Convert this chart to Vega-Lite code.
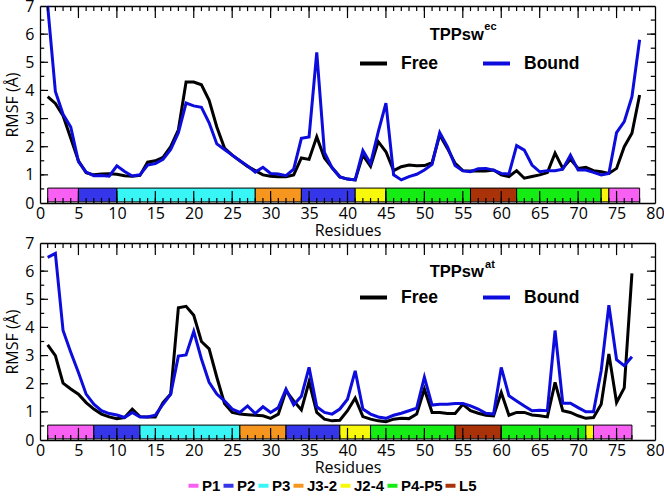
{
  "$schema": "https://vega.github.io/schema/vega-lite/v6.json",
  "padding": {"left": 4, "top": -2, "right": 2, "bottom": 2},
  "spacing": 40,
  "bounds": "flush",
  "datasets": {
    "ec": [
      {"r":1,"Free":3.78,"Bound":7.0},{"r":2,"Free":3.54,"Bound":3.96},{"r":3,"Free":3.1,"Bound":3.15},{"r":4,"Free":2.3,"Bound":2.7},{"r":5,"Free":1.5,"Bound":1.47},
      {"r":6,"Free":1.08,"Bound":1.1},{"r":7,"Free":1.0,"Bound":0.97},{"r":8,"Free":1.03,"Bound":0.98},{"r":9,"Free":1.04,"Bound":0.95},{"r":10,"Free":1.02,"Bound":1.32},
      {"r":11,"Free":0.97,"Bound":1.12},{"r":12,"Free":0.95,"Bound":0.96},{"r":13,"Free":0.98,"Bound":1.0},{"r":14,"Free":1.45,"Bound":1.35},{"r":15,"Free":1.5,"Bound":1.4},
      {"r":16,"Free":1.62,"Bound":1.55},{"r":17,"Free":2.0,"Bound":1.9},{"r":18,"Free":2.6,"Bound":2.5},{"r":19,"Free":4.3,"Bound":3.55},{"r":20,"Free":4.3,"Bound":3.45},
      {"r":21,"Free":4.2,"Bound":3.4},{"r":22,"Free":3.65,"Bound":2.85},{"r":23,"Free":2.7,"Bound":2.1},{"r":24,"Free":1.95,"Bound":1.9},{"r":25,"Free":1.7,"Bound":1.7},
      {"r":26,"Free":1.5,"Bound":1.5},{"r":27,"Free":1.3,"Bound":1.32},{"r":28,"Free":1.15,"Bound":1.1},{"r":29,"Free":1.0,"Bound":1.27},{"r":30,"Free":0.95,"Bound":1.05},
      {"r":31,"Free":0.93,"Bound":1.03},{"r":32,"Free":0.93,"Bound":0.97},{"r":33,"Free":1.0,"Bound":1.2},{"r":34,"Free":1.6,"Bound":2.3},{"r":35,"Free":1.55,"Bound":2.35},
      {"r":36,"Free":2.35,"Bound":5.35},{"r":37,"Free":1.6,"Bound":1.8},{"r":38,"Free":1.25,"Bound":1.25},{"r":39,"Free":0.93,"Bound":0.93},{"r":40,"Free":0.85,"Bound":0.85},
      {"r":41,"Free":0.82,"Bound":0.82},{"r":42,"Free":1.7,"Bound":1.86},{"r":43,"Free":1.3,"Bound":1.4},{"r":44,"Free":2.18,"Bound":2.53},{"r":45,"Free":1.82,"Bound":3.55},
      {"r":46,"Free":1.15,"Bound":1.0},{"r":47,"Free":1.29,"Bound":0.82},{"r":48,"Free":1.35,"Bound":0.94},{"r":49,"Free":1.32,"Bound":1.02},{"r":50,"Free":1.33,"Bound":1.17},
      {"r":51,"Free":1.43,"Bound":1.37},{"r":52,"Free":2.42,"Bound":2.5},{"r":53,"Free":1.94,"Bound":2.0},{"r":54,"Free":1.41,"Bound":1.33},{"r":55,"Free":1.15,"Bound":1.14},
      {"r":56,"Free":1.14,"Bound":1.11},{"r":57,"Free":1.15,"Bound":1.22},{"r":58,"Free":1.14,"Bound":1.23},{"r":59,"Free":1.17,"Bound":1.17},{"r":60,"Free":1.0,"Bound":1.05},
      {"r":61,"Free":0.94,"Bound":1.03},{"r":62,"Free":1.15,"Bound":2.04},{"r":63,"Free":0.88,"Bound":1.88},{"r":64,"Free":0.94,"Bound":1.35},{"r":65,"Free":1.0,"Bound":1.11},
      {"r":66,"Free":1.08,"Bound":1.15},{"r":67,"Free":1.77,"Bound":1.15},{"r":68,"Free":1.23,"Bound":1.2},{"r":69,"Free":1.55,"Bound":1.7},{"r":70,"Free":1.23,"Bound":1.17},
      {"r":71,"Free":1.27,"Bound":1.17},{"r":72,"Free":1.15,"Bound":1.09},{"r":73,"Free":1.11,"Bound":1.0},{"r":74,"Free":1.05,"Bound":1.05},{"r":75,"Free":1.23,"Bound":2.5},
      {"r":76,"Free":2.0,"Bound":2.89},{"r":77,"Free":2.48,"Bound":3.78},{"r":78,"Free":3.84,"Bound":5.8}
    ],
    "at": [
      {"r":1,"Free":3.38,"Bound":6.49},{"r":2,"Free":3.0,"Bound":6.63},{"r":3,"Free":2.02,"Bound":3.89},{"r":4,"Free":1.81,"Bound":3.12},{"r":5,"Free":1.63,"Bound":2.4},
      {"r":6,"Free":1.33,"Bound":1.63},{"r":7,"Free":1.1,"Bound":1.27},{"r":8,"Free":0.92,"Bound":1.04},{"r":9,"Free":0.82,"Bound":0.94},{"r":10,"Free":0.76,"Bound":0.89},
      {"r":11,"Free":0.8,"Bound":0.8},{"r":12,"Free":1.1,"Bound":0.98},{"r":13,"Free":0.83,"Bound":0.82},{"r":14,"Free":0.82,"Bound":0.82},{"r":15,"Free":0.82,"Bound":0.88},
      {"r":16,"Free":1.33,"Bound":1.27},{"r":17,"Free":1.63,"Bound":1.63},{"r":18,"Free":4.7,"Bound":2.98},{"r":19,"Free":4.75,"Bound":3.02},{"r":20,"Free":4.43,"Bound":3.86},
      {"r":21,"Free":3.5,"Bound":2.88},{"r":22,"Free":3.24,"Bound":2.05},{"r":23,"Free":2.23,"Bound":1.63},{"r":24,"Free":1.3,"Bound":1.39},{"r":25,"Free":0.98,"Bound":1.1},
      {"r":26,"Free":0.92,"Bound":0.98},{"r":27,"Free":0.9,"Bound":1.21},{"r":28,"Free":0.88,"Bound":0.94},{"r":29,"Free":0.86,"Bound":1.18},{"r":30,"Free":0.77,"Bound":0.98},
      {"r":31,"Free":0.92,"Bound":1.15},{"r":32,"Free":1.75,"Bound":1.81},{"r":33,"Free":1.39,"Bound":1.25},{"r":34,"Free":1.07,"Bound":1.55},{"r":35,"Free":2.07,"Bound":2.58},
      {"r":36,"Free":0.98,"Bound":1.18},{"r":37,"Free":0.74,"Bound":0.98},{"r":38,"Free":0.68,"Bound":0.92},{"r":39,"Free":0.7,"Bound":1.1},{"r":40,"Free":1.04,"Bound":1.45},
      {"r":41,"Free":1.49,"Bound":2.46},{"r":42,"Free":0.83,"Bound":1.1},{"r":43,"Free":0.74,"Bound":0.92},{"r":44,"Free":0.68,"Bound":0.82},{"r":45,"Free":0.65,"Bound":0.77},
      {"r":46,"Free":0.74,"Bound":0.88},{"r":47,"Free":0.77,"Bound":0.95},{"r":48,"Free":0.76,"Bound":1.04},{"r":49,"Free":0.92,"Bound":1.13},{"r":50,"Free":1.81,"Bound":2.23},
      {"r":51,"Free":0.98,"Bound":1.24},{"r":52,"Free":0.98,"Bound":1.27},{"r":53,"Free":0.94,"Bound":1.27},{"r":54,"Free":0.94,"Bound":1.3},{"r":55,"Free":1.27,"Bound":1.3},
      {"r":56,"Free":1.04,"Bound":1.21},{"r":57,"Free":0.95,"Bound":1.1},{"r":58,"Free":0.88,"Bound":0.95},{"r":59,"Free":0.86,"Bound":0.92},{"r":60,"Free":1.69,"Bound":2.58},
      {"r":61,"Free":0.88,"Bound":1.57},{"r":62,"Free":0.98,"Bound":1.39},{"r":63,"Free":0.98,"Bound":1.21},{"r":64,"Free":0.89,"Bound":1.04},{"r":65,"Free":0.86,"Bound":1.06},
      {"r":66,"Free":0.82,"Bound":1.04},{"r":67,"Free":2.05,"Bound":3.89},{"r":68,"Free":1.04,"Bound":1.31},{"r":69,"Free":0.98,"Bound":1.31},{"r":70,"Free":0.86,"Bound":1.15},
      {"r":71,"Free":0.77,"Bound":1.0},{"r":72,"Free":0.8,"Bound":1.0},{"r":73,"Free":1.27,"Bound":2.46},{"r":74,"Free":3.06,"Bound":4.79},{"r":75,"Free":1.33,"Bound":2.85},
      {"r":76,"Free":1.85,"Bound":2.64},{"r":77,"Free":5.92,"Bound":2.96}
    ],
    "yt": [
      {"v":0.5},{"v":1},{"v":1.5},{"v":2},{"v":2.5},{"v":3},{"v":3.5},{"v":4},{"v":4.5},{"v":5},{"v":5.5},{"v":6},{"v":6.5}
    ],
    "segEc": [
      {"start":1,"end":5,"seg":"P1"},{"start":5,"end":10,"seg":"P2"},{"start":10,"end":28,"seg":"P3"},{"start":28,"end":34,"seg":"J3-2"},
      {"start":34,"end":41,"seg":"P2"},{"start":41,"end":45,"seg":"J2-4"},{"start":45,"end":56,"seg":"P4-P5"},{"start":56,"end":62,"seg":"L5"},
      {"start":62,"end":73,"seg":"P4-P5"},{"start":73,"end":74,"seg":"J2-4"},{"start":74,"end":78,"seg":"P1"}
    ],
    "segAt": [
      {"start":1,"end":7,"seg":"P1"},{"start":7,"end":13,"seg":"P2"},{"start":13,"end":26,"seg":"P3"},{"start":26,"end":32,"seg":"J3-2"},
      {"start":32,"end":39,"seg":"P2"},{"start":39,"end":43,"seg":"J2-4"},{"start":43,"end":54,"seg":"P4-P5"},{"start":54,"end":60,"seg":"L5"},
      {"start":60,"end":71,"seg":"P4-P5"},{"start":71,"end":72,"seg":"J2-4"},{"start":72,"end":77,"seg":"P1"}
    ]
  },
  "config": {
    "view": {"stroke": null},
    "axis": {
      "labelFont": "Open Sans", "labelFontSize": 16, "labelColor": "#000",
      "titleFont": "Open Sans", "titleFontSize": 16, "titleFontWeight": "normal", "titleColor": "#000",
      "domainColor": "#000", "domainWidth": 1.3, "ticks": true, "tickSize": 5, "tickOpacity": 0,
      "grid": false, "zindex": 1
    }
  },
  "resolve": {"scale": {"stroke": "independent"}, "legend": {"stroke": "independent"}},
  "vconcat": [
    {
      "width": 615, "height": 197,
      "resolve": {"axis": {"x": "independent", "y": "independent"}},
      "layer": [
        {
          "data": {"name": "segEc"},
          "mark": {"type": "rect", "stroke": "#000", "strokeWidth": 1},
          "encoding": {
            "x": {"field": "start", "type": "quantitative", "scale": {"domain": [0, 80], "nice": false},
              "axis": {"orient": "bottom", "values": [0,5,10,15,20,25,30,35,40,45,50,55,60,65,70,75,80],
                "labelOverlap": false, "labelFlush": false, "format": "d",
                "labelPadding": -3, "title": "Residues", "titlePadding": 1}},
            "x2": {"field": "end"},
            "y": {"datum": 0.04, "type": "quantitative", "scale": {"domain": [0, 7], "nice": false},
              "axis": {"orient": "left", "values": [0,1,2,3,4,5,6,7],
                "labelOverlap": false, "labelFlush": false, "format": "d",
                "labelPadding": 1, "title": "RMSF (Å)", "titlePadding": 4}},
            "y2": {"datum": 0.53},
            "fill": {"field": "seg", "type": "nominal",
              "scale": {"domain": ["P1","P2","P3","J3-2","J2-4","P4-P5","L5"], "range": ["#f760f2","#3535ea","#38f6f6","#f7961f","#f8f80c","#14ec14","#a93208"]},
              "legend": {"orient": "none", "legendX": 146, "legendY": 472, "direction": "horizontal", "title": null,
                "symbolType": "M-1,-0.4H1V0.4H-1Z", "symbolSize": 100, "symbolStrokeWidth": 0,
                "labelFont": "Liberation Sans", "labelFontWeight": "bold", "labelFontSize": 15, "labelColor": "#000",
                "labelOffset": 1, "columnPadding": 0}}
          }
        },
        {
          "data": {"name": "ec"},
          "transform": [{"fold": ["Free", "Bound"], "as": ["state", "rmsf"]}],
          "mark": {"type": "line", "strokeWidth": 3},
          "encoding": {
            "x": {"field": "r", "type": "quantitative",
              "axis": {"orient": "top", "values": [0,80], "labels": false, "title": null}},
            "y": {"field": "rmsf", "type": "quantitative",
              "axis": {"orient": "right", "values": [0,7], "labels": false, "title": null}},
            "stroke": {"field": "state", "type": "nominal",
              "scale": {"domain": ["Free", "Bound"], "range": ["#000000", "#0c0cdc"]},
              "legend": {"orient": "none", "legendX": 318, "legendY": 42, "direction": "horizontal", "title": null,
                "symbolType": "stroke", "symbolSize": 729, "symbolStrokeWidth": 4,
                "labelFont": "Liberation Sans", "labelFontWeight": "bold", "labelFontSize": 17.5, "labelColor": "#000",
                "labelOffset": 12, "columnPadding": 37}}
          }
        },
        {
          "data": {"name": "ec"},
          "mark": {"type": "rule", "color": "#000", "strokeWidth": 1.2},
          "encoding": {"x": {"field": "r", "type": "quantitative", "axis": null}, "y": {"datum": 0, "type": "quantitative", "axis": null}, "y2": {"datum": 0.18}}
        },
        {
          "data": {"name": "ec"},
          "mark": {"type": "rule", "color": "#000", "strokeWidth": 1.2},
          "encoding": {"x": {"field": "r", "type": "quantitative", "axis": null}, "y": {"datum": 7, "type": "quantitative", "axis": null}, "y2": {"datum": 6.82}}
        },
        {
          "data": {"name": "ec"},
          "transform": [{"filter": "datum.r % 5 === 0"}],
          "mark": {"type": "rule", "color": "#000", "strokeWidth": 1.2},
          "encoding": {"x": {"field": "r", "type": "quantitative", "axis": null}, "y": {"datum": 0, "type": "quantitative", "axis": null}, "y2": {"datum": 0.43}}
        },
        {
          "data": {"name": "ec"},
          "transform": [{"filter": "datum.r % 5 === 0"}],
          "mark": {"type": "rule", "color": "#000", "strokeWidth": 1.2},
          "encoding": {"x": {"field": "r", "type": "quantitative", "axis": null}, "y": {"datum": 7, "type": "quantitative", "axis": null}, "y2": {"datum": 6.57}}
        },
        {
          "data": {"name": "yt"},
          "mark": {"type": "rule", "color": "#000", "strokeWidth": 1.2},
          "encoding": {"y": {"field": "v", "type": "quantitative", "axis": null}, "x": {"datum": 0, "type": "quantitative", "axis": null}, "x2": {"datum": 0.55}}
        },
        {
          "data": {"name": "yt"},
          "transform": [{"filter": "datum.v % 1 === 0"}],
          "mark": {"type": "rule", "color": "#000", "strokeWidth": 1.2},
          "encoding": {"y": {"field": "v", "type": "quantitative", "axis": null}, "x": {"datum": 0, "type": "quantitative", "axis": null}, "x2": {"datum": 1.05}}
        },
        {
          "data": {"name": "yt"},
          "mark": {"type": "rule", "color": "#000", "strokeWidth": 1.2},
          "encoding": {"y": {"field": "v", "type": "quantitative", "axis": null}, "x": {"datum": 80, "type": "quantitative", "axis": null}, "x2": {"datum": 79.45}}
        },
        {
          "data": {"name": "yt"},
          "transform": [{"filter": "datum.v % 1 === 0"}],
          "mark": {"type": "rule", "color": "#000", "strokeWidth": 1.2},
          "encoding": {"y": {"field": "v", "type": "quantitative", "axis": null}, "x": {"datum": 80, "type": "quantitative", "axis": null}, "x2": {"datum": 78.95}}
        },
        {
          "data": {"values": [{}]},
          "mark": {"type": "text", "text": "TPPsw", "font": "Liberation Sans", "fontWeight": "bold", "fontSize": 16.5, "align": "left", "baseline": "alphabetic"},
          "encoding": {"x": {"datum": 50.7, "type": "quantitative", "axis": null}, "y": {"datum": 5.8, "type": "quantitative", "axis": null}}
        },
        {
          "data": {"values": [{}]},
          "mark": {"type": "text", "text": "ec", "font": "Liberation Sans", "fontWeight": "bold", "fontSize": 11, "align": "left", "baseline": "alphabetic"},
          "encoding": {"x": {"datum": 57.8, "type": "quantitative", "axis": null}, "y": {"datum": 6.13, "type": "quantitative", "axis": null}}
        }
      ]
    },
    {
      "width": 615, "height": 197,
      "resolve": {"axis": {"x": "independent", "y": "independent"}},
      "layer": [
        {
          "data": {"name": "segAt"},
          "mark": {"type": "rect", "stroke": "#000", "strokeWidth": 1},
          "encoding": {
            "x": {"field": "start", "type": "quantitative", "scale": {"domain": [0, 80], "nice": false},
              "axis": {"orient": "bottom", "values": [0,5,10,15,20,25,30,35,40,45,50,55,60,65,70,75,80],
                "labelOverlap": false, "labelFlush": false, "format": "d",
                "labelPadding": -3, "title": "Residues", "titlePadding": 1}},
            "x2": {"field": "end"},
            "y": {"datum": 0.04, "type": "quantitative", "scale": {"domain": [0, 7], "nice": false},
              "axis": {"orient": "left", "values": [0,1,2,3,4,5,6,7],
                "labelOverlap": false, "labelFlush": false, "format": "d",
                "labelPadding": 1, "title": "RMSF (Å)", "titlePadding": 4}},
            "y2": {"datum": 0.53},
            "fill": {"field": "seg", "type": "nominal"}
          }
        },
        {
          "data": {"name": "at"},
          "transform": [{"fold": ["Free", "Bound"], "as": ["state", "rmsf"]}],
          "mark": {"type": "line", "strokeWidth": 3},
          "encoding": {
            "x": {"field": "r", "type": "quantitative",
              "axis": {"orient": "top", "values": [0,80], "labels": false, "title": null}},
            "y": {"field": "rmsf", "type": "quantitative",
              "axis": {"orient": "right", "values": [0,7], "labels": false, "title": null}},
            "stroke": {"field": "state", "type": "nominal",
              "scale": {"domain": ["Free", "Bound"], "range": ["#000000", "#0c0cdc"]},
              "legend": {"orient": "none", "legendX": 318, "legendY": 39, "direction": "horizontal", "title": null,
                "symbolType": "stroke", "symbolSize": 729, "symbolStrokeWidth": 4,
                "labelFont": "Liberation Sans", "labelFontWeight": "bold", "labelFontSize": 17.5, "labelColor": "#000",
                "labelOffset": 12, "columnPadding": 37}}
          }
        },
        {
          "data": {"name": "at"},
          "mark": {"type": "rule", "color": "#000", "strokeWidth": 1.2},
          "encoding": {"x": {"field": "r", "type": "quantitative", "axis": null}, "y": {"datum": 0, "type": "quantitative", "axis": null}, "y2": {"datum": 0.18}}
        },
        {
          "data": {"name": "at"},
          "mark": {"type": "rule", "color": "#000", "strokeWidth": 1.2},
          "encoding": {"x": {"field": "r", "type": "quantitative", "axis": null}, "y": {"datum": 7, "type": "quantitative", "axis": null}, "y2": {"datum": 6.82}}
        },
        {
          "data": {"name": "at"},
          "transform": [{"filter": "datum.r % 5 === 0"}],
          "mark": {"type": "rule", "color": "#000", "strokeWidth": 1.2},
          "encoding": {"x": {"field": "r", "type": "quantitative", "axis": null}, "y": {"datum": 0, "type": "quantitative", "axis": null}, "y2": {"datum": 0.43}}
        },
        {
          "data": {"name": "at"},
          "transform": [{"filter": "datum.r % 5 === 0"}],
          "mark": {"type": "rule", "color": "#000", "strokeWidth": 1.2},
          "encoding": {"x": {"field": "r", "type": "quantitative", "axis": null}, "y": {"datum": 7, "type": "quantitative", "axis": null}, "y2": {"datum": 6.57}}
        },
        {
          "data": {"name": "yt"},
          "mark": {"type": "rule", "color": "#000", "strokeWidth": 1.2},
          "encoding": {"y": {"field": "v", "type": "quantitative", "axis": null}, "x": {"datum": 0, "type": "quantitative", "axis": null}, "x2": {"datum": 0.55}}
        },
        {
          "data": {"name": "yt"},
          "transform": [{"filter": "datum.v % 1 === 0"}],
          "mark": {"type": "rule", "color": "#000", "strokeWidth": 1.2},
          "encoding": {"y": {"field": "v", "type": "quantitative", "axis": null}, "x": {"datum": 0, "type": "quantitative", "axis": null}, "x2": {"datum": 1.05}}
        },
        {
          "data": {"name": "yt"},
          "mark": {"type": "rule", "color": "#000", "strokeWidth": 1.2},
          "encoding": {"y": {"field": "v", "type": "quantitative", "axis": null}, "x": {"datum": 80, "type": "quantitative", "axis": null}, "x2": {"datum": 79.45}}
        },
        {
          "data": {"name": "yt"},
          "transform": [{"filter": "datum.v % 1 === 0"}],
          "mark": {"type": "rule", "color": "#000", "strokeWidth": 1.2},
          "encoding": {"y": {"field": "v", "type": "quantitative", "axis": null}, "x": {"datum": 80, "type": "quantitative", "axis": null}, "x2": {"datum": 78.95}}
        },
        {
          "data": {"values": [{}]},
          "mark": {"type": "text", "text": "TPPsw", "font": "Liberation Sans", "fontWeight": "bold", "fontSize": 16.5, "align": "left", "baseline": "alphabetic"},
          "encoding": {"x": {"datum": 50.7, "type": "quantitative", "axis": null}, "y": {"datum": 5.78, "type": "quantitative", "axis": null}}
        },
        {
          "data": {"values": [{}]},
          "mark": {"type": "text", "text": "at", "font": "Liberation Sans", "fontWeight": "bold", "fontSize": 11, "align": "left", "baseline": "alphabetic"},
          "encoding": {"x": {"datum": 57.9, "type": "quantitative", "axis": null}, "y": {"datum": 6.11, "type": "quantitative", "axis": null}}
        }
      ]
    }
  ]
}
